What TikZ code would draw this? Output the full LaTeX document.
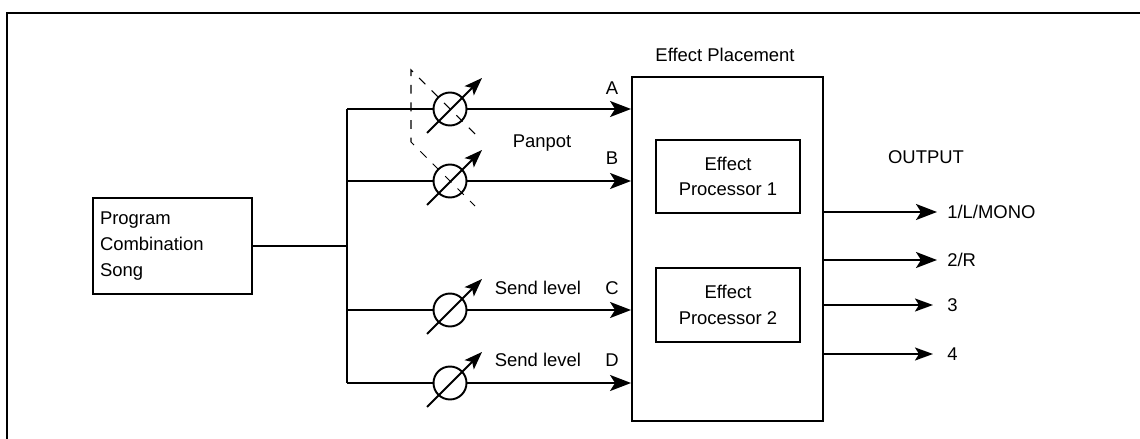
\documentclass[tikz,border=0pt]{standalone}
\usepackage{fontspec}
\setmainfont{Liberation Sans}
\usetikzlibrary{arrows.meta}
\tikzset{>/.tip={Stealth[length=0.42cm,width=0.32cm,inset=0.1cm]},
  small/.tip={Stealth[length=0.36cm,width=0.26cm,inset=0.08cm]},
  box/.style={draw, line width=1.1pt, inner sep=0pt},
  pot/.style={draw, circle, line width=1.1pt, minimum size=0.66cm, inner sep=0pt},
  tag/.style={inner sep=0pt},
  wire/.style={line width=1.1pt},
  gang/.style={line width=0.6pt, dash pattern=on 5pt off 5pt}}

\begin{document}
\begin{tikzpicture}[x=0.02cm, y=-0.02cm, every node/.style={font=\fontsize{10.5}{14.7}\selectfont}]
\useasboundingbox (0,0) rectangle (1140,439);
\draw[wire] (7,460) -- (7,13) -- (1160,13);

\node[box, minimum width=3.18cm, minimum height=1.92cm, text width=2.9cm, align=left] (src) at (172.5,246) {Program\\Combination\\Song};
\node[box, minimum width=3.82cm, minimum height=6.88cm] (place) at (727.5,249) {};
\node[tag] (placetitle) at (725,55) {Effect Placement};
\node[box, minimum width=2.88cm, minimum height=1.46cm, align=center] (fx1) at (728,176.5) {Effect\\Processor 1};
\node[box, minimum width=2.88cm, minimum height=1.48cm, align=center] (fx2) at (728,305) {Effect\\Processor 2};

\coordinate (split) at (347,246);
\draw[wire] (src) -- (split);

\foreach \n/\y in {a/109, b/181, c/310, d/383}
{
  \node[pot] (pot\n) at (450,\y) {};
  \coordinate (bus\n) at (347,\y);
}
\draw[wire] (busa) -- (busd);
\foreach \n in {a,b,c,d}
{
  \draw[wire] (bus\n) -- (pot\n);
  \draw[wire, ->] (pot\n) -- (pot\n -| place.west);
  \draw[wire, -small] ([shift={(-23,24)}]pot\n.center) -- ([shift={(32,-31)}]pot\n.center);
}
\draw[gang] ([shift={(25,25)}]pota.center) -- ([shift={(-39,-39)}]pota.center)
  -- ([shift={(-39,-39)}]potb.center) -- ([shift={(25,25)}]potb.center);

\foreach \n/\l/\y in {a/A/88, b/B/158, c/C/288, d/D/360}
{
  \node[tag] (in\n) at (612,\y) {\l};
}
\node[tag] (panpot) at (542,143) {Panpot};
\node[tag] (sendc) at (538,288) {Send level};
\node[tag] (sendd) at (538,360) {Send level};

\node[tag] (output) at (926,157) {OUTPUT};
\node[tag, anchor=west, inner xsep=0.2cm] (out1) at (937,212) {1/L/MONO};
\node[tag, anchor=west, inner xsep=0.2cm] (out2) at (937,260) {2/R};
\node[tag, anchor=west, inner xsep=0.2cm] (out3) at (937,305) {3};
\node[tag, anchor=west, inner xsep=0.2cm] (out4) at (937,354) {4};
\foreach \n in {1,2}
{
  \draw[wire, ->] (place.east |- out\n) -- (out\n.west);
}
\foreach \n in {3,4}
{
  \draw[wire, -small, shorten >=0.08cm] (place.east |- out\n) -- (out\n.west);
}
\end{tikzpicture}
\end{document}
